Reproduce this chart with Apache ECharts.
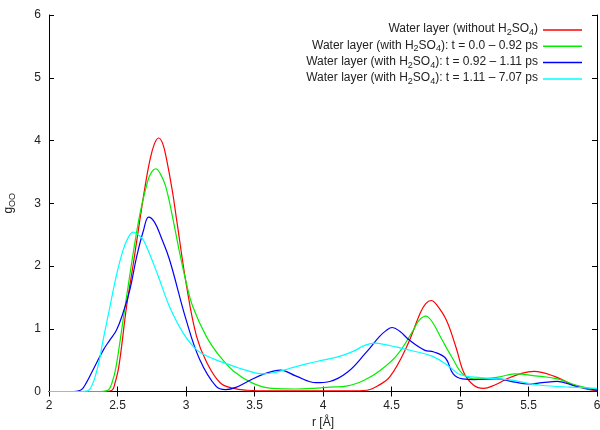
<!DOCTYPE html>
<html>
<head>
<meta charset="utf-8">
<script src="https://cdn.jsdelivr.net/npm/echarts@6/dist/echarts.min.js"></script>
<style>html,body{margin:0;padding:0;background:#fff}#c{width:600px;height:430px}</style>
</head>
<body>
<div id="c"></div>
<script>
// ---- data ----
const seriesNames = ['red', 'green', 'blue', 'cyan'];
const legendLabels = [
  '{a|Water layer (without H}{s|2}{a|SO}{s|4}{a|)}',
  '{a|Water layer (with H}{s|2}{a|SO}{s|4}{a|): t = 0.0 – 0.92 ps}',
  '{a|Water layer (with H}{s|2}{a|SO}{s|4}{a|): t = 0.92 – 1.11 ps}',
  '{a|Water layer (with H}{s|2}{a|SO}{s|4}{a|): t = 1.11 – 7.07 ps}'
];

const redR = [2.0, 2.40, 2.46, 2.48, 2.51, 2.566, 2.62, 2.663, 2.70, 2.737, 2.77, 2.80, 2.83, 2.859, 2.90, 2.932, 3.005, 3.077, 3.15, 3.249, 3.346, 3.45, 3.6, 3.8, 4.0, 4.2, 4.32, 4.40, 4.49, 4.61, 4.71, 4.75, 4.79, 4.83, 4.90, 4.97, 5.03, 5.10, 5.17, 5.25, 5.35, 5.45, 5.54, 5.69, 5.83, 5.92, 6.0];
const redG = [0, 0, 0.02, 0.12, 0.40, 1.35, 2.10, 2.73, 3.25, 3.69, 3.95, 4.04, 3.95, 3.69, 3.20, 2.73, 1.67, 0.88, 0.47, 0.14, 0.05, 0.02, 0.01, 0.01, 0.01, 0.01, 0.02, 0.09, 0.24, 0.71, 1.25, 1.40, 1.45, 1.38, 1.14, 0.71, 0.29, 0.10, 0.05, 0.10, 0.21, 0.29, 0.32, 0.24, 0.10, 0.04, 0.01];

const greenR = [2.0, 2.38, 2.43, 2.46, 2.49, 2.555, 2.655, 2.72, 2.75, 2.78, 2.81, 2.85, 2.90, 2.95, 3.00, 3.05, 3.15, 3.25, 3.35, 3.49, 3.63, 3.80, 3.93, 4.05, 4.18, 4.30, 4.42, 4.54, 4.66, 4.70, 4.75, 4.80, 4.87, 4.94, 5.03, 5.15, 5.28, 5.40, 5.55, 5.71, 5.85, 6.0];
const greenG = [0, 0, 0.02, 0.14, 0.40, 1.35, 2.73, 3.35, 3.50, 3.55, 3.48, 3.28, 2.80, 2.25, 1.75, 1.35, 0.87, 0.55, 0.32, 0.13, 0.05, 0.04, 0.05, 0.07, 0.09, 0.18, 0.34, 0.58, 0.98, 1.13, 1.20, 1.10, 0.82, 0.55, 0.26, 0.20, 0.23, 0.28, 0.25, 0.20, 0.10, 0.03];

const blueR = [2.0, 2.16, 2.23, 2.27, 2.32, 2.396, 2.444, 2.493, 2.54, 2.59, 2.64, 2.69, 2.727, 2.77, 2.82, 2.88, 3.0, 3.10, 3.22, 3.29, 3.37, 3.46, 3.57, 3.69, 3.80, 3.95, 4.05, 4.18, 4.31, 4.41, 4.46, 4.505, 4.56, 4.63, 4.74, 4.81, 4.895, 4.95, 5.02, 5.10, 5.27, 5.40, 5.49, 5.60, 5.71, 5.85, 6.0];
const blueG = [0, 0, 0.02, 0.13, 0.34, 0.66, 0.82, 0.98, 1.25, 1.62, 2.15, 2.57, 2.78, 2.70, 2.45, 2.10, 1.15, 0.51, 0.08, 0.03, 0.07, 0.17, 0.28, 0.34, 0.25, 0.14, 0.16, 0.31, 0.61, 0.87, 0.97, 1.02, 0.96, 0.82, 0.66, 0.63, 0.53, 0.28, 0.20, 0.19, 0.20, 0.15, 0.12, 0.14, 0.16, 0.08, 0.02];

const cyanR = [2.0, 2.24, 2.29, 2.35, 2.395, 2.44, 2.49, 2.54, 2.58, 2.615, 2.65, 2.69, 2.79, 2.88, 2.98, 3.08, 3.19, 3.30, 3.39, 3.50, 3.56, 3.66, 3.76, 3.88, 4.0, 4.12, 4.22, 4.31, 4.38, 4.45, 4.53, 4.65, 4.80, 4.92, 5.0, 5.15, 5.35, 5.50, 5.59, 5.80, 6.0];
const cyanG = [0, 0, 0.02, 0.34, 0.82, 1.30, 1.83, 2.25, 2.46, 2.54, 2.50, 2.41, 1.88, 1.35, 0.93, 0.66, 0.53, 0.44, 0.37, 0.30, 0.28, 0.31, 0.37, 0.44, 0.50, 0.56, 0.64, 0.74, 0.77, 0.75, 0.71, 0.65, 0.56, 0.40, 0.27, 0.22, 0.19, 0.13, 0.10, 0.07, 0.05];

const colors = ['#ff0000', '#00ee00', '#0000ff', '#00ffff'];
const dataR = [redR, greenR, blueR, cyanR];
const dataG = [redG, greenG, blueG, cyanG];

const xMin = 2, xMax = 6, xStep = 0.5;
const yMin = 0, yMax = 6, yStep = 1;

// ---- chart ----
const font = 'Liberation Sans, Arial, Helvetica, sans-serif';
const chart = echarts.init(document.getElementById('c'), null, {renderer: 'canvas'});

const series = seriesNames.map((n, i) => ({
  name: n,
  type: 'line',
  xAxisIndex: 0,
  yAxisIndex: 0,
  data: dataR[i].map((r, k) => [r, dataG[i][k]]),
  smooth: 0.4,
  showSymbol: false,
  symbol: 'none',
  lineStyle: {color: colors[i], width: 1.2},
  itemStyle: {color: colors[i]},
  clip: true,
  animation: false
}));

const axisCommon = {
  type: 'value',
  axisLine: {show: true, lineStyle: {color: '#000', width: 1}},
  axisTick: {show: true, inside: true, length: 5, lineStyle: {color: '#000', width: 1}},
  splitLine: {show: false}
};

const option = {
  animation: false,
  backgroundColor: '#fff',
  textStyle: {fontFamily: font},
  grid: {left: 49, right: 3, top: 15, bottom: 38.5, containLabel: false, outerBoundsMode: 'none'},
  xAxis: [
    Object.assign({}, axisCommon, {
      min: xMin, max: xMax, interval: xStep, position: 'bottom',
      axisLabel: {color: '#222', fontSize: 12, margin: 8, fontFamily: font},
      name: 'r [Å]', nameLocation: 'middle', nameGap: 23,
      nameTextStyle: {color: '#222', fontSize: 12, fontFamily: font}
    }),
    Object.assign({}, axisCommon, {
      min: xMin, max: xMax, interval: xStep, position: 'top',
      axisLabel: {show: false}
    })
  ],
  yAxis: [
    Object.assign({}, axisCommon, {
      min: yMin, max: yMax, interval: yStep, position: 'left',
      axisLabel: {color: '#222', fontSize: 12, margin: 8, fontFamily: font},
      name: '{g|g}{s|OO}', nameLocation: 'middle', nameGap: 32, nameRotate: 90,
      nameTextStyle: {
        color: '#222', fontFamily: font,
        rich: {
          g: {fontSize: 12, lineHeight: 14, verticalAlign: 'top', color: '#222', fontFamily: font},
          s: {fontSize: 9, lineHeight: 14, verticalAlign: 'top', padding: [5, 0, 0, 0], color: '#222', fontFamily: font}
        }
      }
    }),
    Object.assign({}, axisCommon, {
      min: yMin, max: yMax, interval: yStep, position: 'right',
      axisLabel: {show: false}
    })
  ],
  legend: {
    orient: 'vertical',
    right: 18,
    top: 23,
    align: 'right',
    itemWidth: 39,
    itemHeight: 1.5,
    itemGap: 2.3,
    icon: 'rect',
    padding: 0,
    data: seriesNames.map((n, i) => ({name: n, itemStyle: {color: colors[i]}})),
    formatter: function (name) { return legendLabels[seriesNames.indexOf(name)]; },
    textStyle: {
      color: '#222', fontFamily: font, fontSize: 12,
      rich: {
        a: {fontSize: 12, lineHeight: 14, verticalAlign: 'top', color: '#222', fontFamily: font},
        s: {fontSize: 9, lineHeight: 14, verticalAlign: 'top', padding: [5, 0, 0, 0], color: '#222', fontFamily: font}
      }
    },
    selectedMode: false
  },
  series: series
};
chart.setOption(option);
</script>
</body>
</html>
